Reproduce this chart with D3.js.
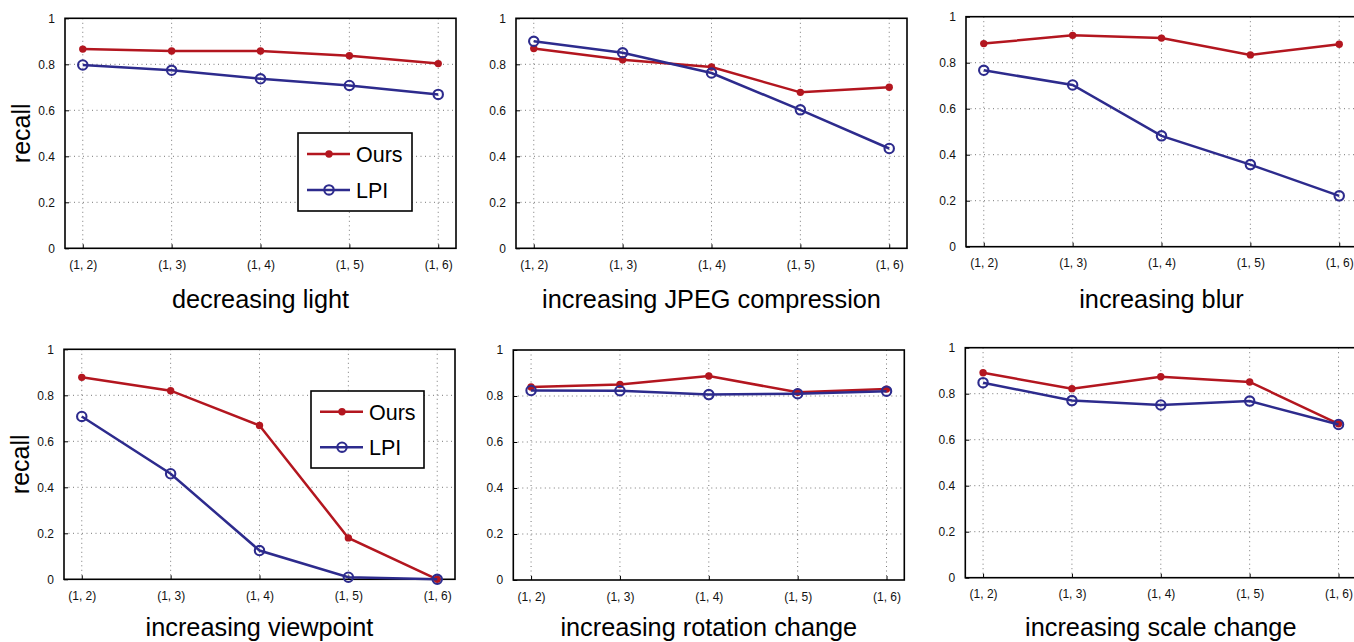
<!DOCTYPE html>
<html>
<head>
<meta charset="utf-8">
<script src="https://cdn.jsdelivr.net/npm/d3@7/dist/d3.min.js"></script>
<style>
  html, body { margin: 0; padding: 0; background: #fff; }
  svg { display: block; font-family: "Liberation Sans", Arial, Helvetica, sans-serif; }
</style>
</head>
<body>
<svg id="chart" width="1354" height="642"></svg>
<script>
// ---------- data ----------
const categories = ["(1, 2)", "(1, 3)", "(1, 4)", "(1, 5)", "(1, 6)"];
const yTicks = [0, 0.2, 0.4, 0.6, 0.8, 1];
const yTickLabels = ["0", "0.2", "0.4", "0.6", "0.8", "1"];
const seriesNames = ["Ours", "LPI"];
const titles = [
  "decreasing light", "increasing JPEG compression", "increasing blur",
  "increasing viewpoint", "increasing rotation change", "increasing scale change"
];
const oursLight    = [0.866, 0.858, 0.858, 0.837, 0.803];
const lpiLight     = [0.797, 0.774, 0.737, 0.708, 0.669];
const oursJpeg     = [0.869, 0.820, 0.788, 0.678, 0.700];
const lpiJpeg      = [0.900, 0.850, 0.762, 0.602, 0.434];
const oursBlur     = [0.883, 0.919, 0.907, 0.834, 0.880];
const lpiBlur      = [0.767, 0.703, 0.482, 0.357, 0.221];
const oursViewpoint= [0.878, 0.820, 0.669, 0.180, 0.000];
const lpiViewpoint = [0.708, 0.459, 0.125, 0.009, 0.000];
const oursRotation = [0.839, 0.850, 0.887, 0.816, 0.830];
const lpiRotation  = [0.824, 0.823, 0.806, 0.810, 0.821];
const oursScale    = [0.891, 0.822, 0.874, 0.851, 0.669];
const lpiScale     = [0.848, 0.770, 0.751, 0.768, 0.666];

const panelData = [
  [oursLight, lpiLight], [oursJpeg, lpiJpeg], [oursBlur, lpiBlur],
  [oursViewpoint, lpiViewpoint], [oursRotation, lpiRotation], [oursScale, lpiScale]
];

// ---------- layout & style ----------
const W = 391, H = 230;
const panels = [
  {x: 65,    y: 18.3, titleY: 308, ylabel: true,  legend: {x: 298, y: 133, w: 114, h: 78}},
  {x: 516,   y: 18.3, titleY: 308},
  {x: 966,   y: 16.7, titleY: 308},
  {x: 64,    y: 349.3, titleY: 636, ylabel: true, legend: {x: 311, y: 391, w: 113, h: 77}},
  {x: 513.3, y: 350,  titleY: 636},
  {x: 965.3, y: 347.7, titleY: 636}
];
const RED = "#b3161f", BLUE = "#2d2b8d";
const TICK_FONT = 12;

const svg = d3.select("#chart");

panels.forEach((p, i) => {
  const g = svg.append("g").attr("transform", `translate(${p.x},${p.y})`);
  const x = d3.scalePoint().domain(categories).range([0, W]).padding(0.2);
  const y = d3.scaleLinear().domain([0, 1]).range([H, 0]);

  // grid (dotted)
  g.append("g").selectAll("line").data(categories).join("line")
    .attr("x1", d => x(d)).attr("x2", d => x(d)).attr("y1", 0).attr("y2", H)
    .attr("stroke", "#777").attr("stroke-width", 1).attr("stroke-dasharray", "1,3.5");
  g.append("g").selectAll("line").data(yTicks.filter(t => t > 0 && t < 1)).join("line")
    .attr("x1", 0).attr("x2", W).attr("y1", d => y(d)).attr("y2", d => y(d))
    .attr("stroke", "#777").attr("stroke-width", 1).attr("stroke-dasharray", "1,3.5");

  // axes
  const xAxis = d3.axisBottom(x).tickSizeInner(-4).tickSizeOuter(0).tickPadding(12);
  const gx = g.append("g").attr("transform", `translate(0,${H})`).call(xAxis);
  gx.select(".domain").remove();
  gx.selectAll("line").attr("stroke", "#000");
  gx.selectAll("text").attr("font-size", TICK_FONT).attr("fill", "#111")
    .attr("font-family", "Liberation Sans, Arial, sans-serif");

  const yAxis = d3.axisLeft(y).tickValues(yTicks).tickFormat((d, k) => yTickLabels[k])
    .tickSizeInner(-4).tickSizeOuter(0).tickPadding(10);
  const gy = g.append("g").call(yAxis);
  gy.select(".domain").remove();
  gy.selectAll("line").attr("stroke", "#000");
  gy.selectAll("text").attr("font-size", TICK_FONT).attr("fill", "#111")
    .attr("font-family", "Liberation Sans, Arial, sans-serif");

  // box
  g.append("rect").attr("x", 0).attr("y", 0).attr("width", W).attr("height", H)
    .attr("fill", "none").attr("stroke", "#000").attr("stroke-width", 1.6);

  const line = d3.line().x((d, k) => x(categories[k])).y(d => y(d));
  const [ours, lpi] = panelData[i];

  // Ours
  g.append("path").datum(ours).attr("d", line).attr("fill", "none")
    .attr("stroke", RED).attr("stroke-width", 2.5);
  g.append("g").selectAll("circle").data(ours).join("circle")
    .attr("cx", (d, k) => x(categories[k])).attr("cy", d => y(d)).attr("r", 3.7)
    .attr("fill", RED);

  // LPI
  g.append("path").datum(lpi).attr("d", line).attr("fill", "none")
    .attr("stroke", BLUE).attr("stroke-width", 2.5);
  g.append("g").selectAll("circle").data(lpi).join("circle")
    .attr("cx", (d, k) => x(categories[k])).attr("cy", d => y(d)).attr("r", 4.7)
    .attr("fill", "none").attr("stroke", BLUE).attr("stroke-width", 2.1);

  // title
  svg.append("text").attr("x", p.x + W / 2).attr("y", p.titleY)
    .attr("text-anchor", "middle").attr("font-size", 25.3).attr("fill", "#000")
    .text(titles[i]);

  if (p.ylabel) {
    svg.append("text")
      .attr("transform", `translate(${p.x - 35},${p.y + H / 2}) rotate(-90)`)
      .attr("text-anchor", "middle").attr("font-size", 25).attr("fill", "#000")
      .text("recall");
  }

  if (p.legend) {
    const L = p.legend;
    const lg = svg.append("g").attr("transform", `translate(${L.x},${L.y})`);
    lg.append("rect").attr("width", L.w).attr("height", L.h)
      .attr("fill", "#fff").attr("stroke", "#000").attr("stroke-width", 1.6);
    const rowsY = [L.h * 0.27, L.h * 0.73];
    seriesNames.forEach((name, k) => {
      const col = k === 0 ? RED : BLUE;
      lg.append("line").attr("x1", 9).attr("x2", 52).attr("y1", rowsY[k]).attr("y2", rowsY[k])
        .attr("stroke", col).attr("stroke-width", 2.5);
      if (k === 0) {
        lg.append("circle").attr("cx", 31).attr("cy", rowsY[k]).attr("r", 3.7).attr("fill", col);
      } else {
        lg.append("circle").attr("cx", 31).attr("cy", rowsY[k]).attr("r", 4.7)
          .attr("fill", "none").attr("stroke", col).attr("stroke-width", 2.1);
      }
      lg.append("text").attr("x", 58).attr("y", rowsY[k]).attr("dy", "0.36em")
        .attr("font-size", 21.5).attr("fill", "#000").text(name);
    });
  }
});
</script>
</body>
</html>
